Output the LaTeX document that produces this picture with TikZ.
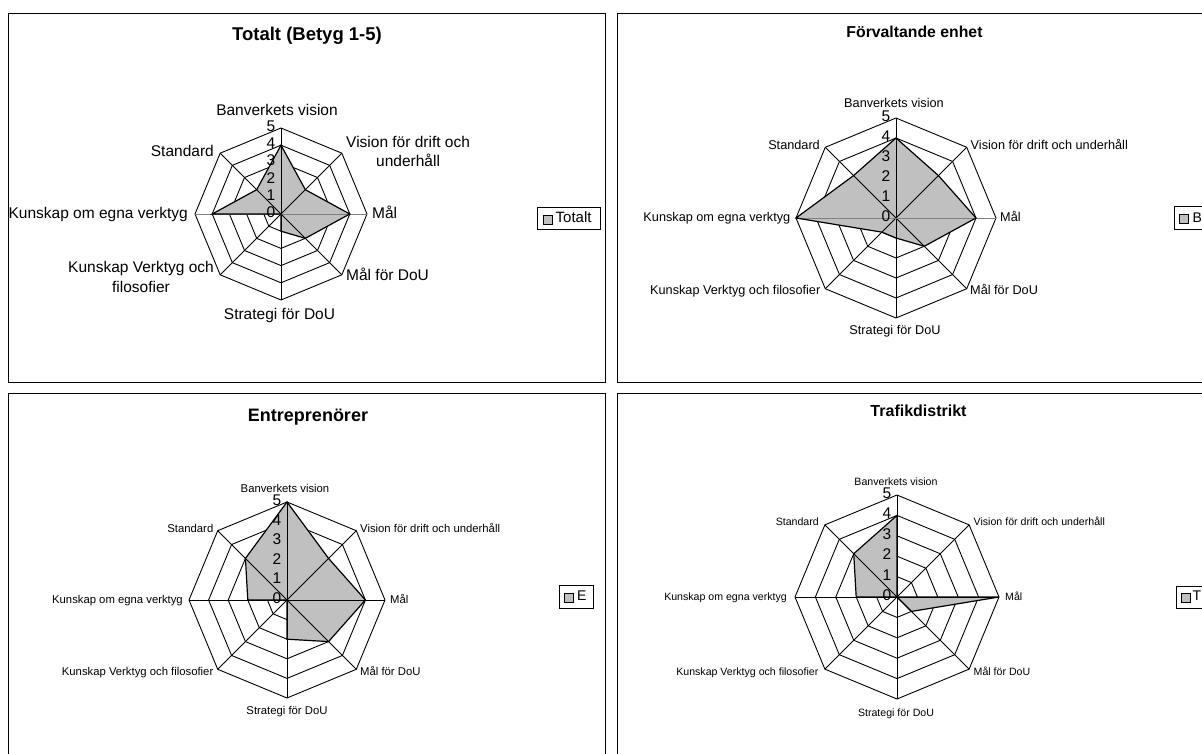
\documentclass[tikz,border=0pt]{standalone}
\usepackage{fontspec}
\setmainfont{Liberation Sans}
\definecolor{areagray}{HTML}{C0C0C0}
\definecolor{axisgray}{HTML}{808080}
% Radar chart: #1,#2 centre, #3 radius of the 5-ring, #4 first value (top axis),
% #5 remaining seven values clockwise, #6 colour of the horizontal axis, #7 name prefix
\newcommand{\radarchart}[7]{%
  \begin{scope}[shift={(#1,#2)},y=1pt]
    \foreach \k in {1,...,5}
      \draw[ring] (90:{\k*#3/5}) \foreach \a in {45,0,-45,-90,-135,180,135} { -- (\a:{\k*#3/5}) } -- cycle;
    \fill[area] (90:{#4*#3/5}) \foreach \v [count=\i] in {#5} { -- ({90-45*\i}:{\v*#3/5}) } -- cycle;
    \foreach \a in {90,45,-45,-90,-135,135} \draw[spoke] (0,0) -- (\a:#3);
    \draw[spoke,draw=#6] (180:#3) -- (0:#3);
    \draw[outline] (90:{#4*#3/5}) \foreach \v [count=\i] in {#5} { -- ({90-45*\i}:{\v*#3/5}) } -- cycle;
    \foreach \k in {0,...,5} \node[num] (#7n\k) at (-5.5,{\k*#3/5}) {\k};
  \end{scope}}
\begin{document}
\begin{tikzpicture}[x=1pt,y=-1pt,
  frame/.style={draw=black,line width=1pt},
  ring/.style={draw=black,line width=0.9pt},
  spoke/.style={draw=black,line width=0.9pt},
  area/.style={fill=areagray},
  outline/.style={draw=black,line width=1.2pt,line join=miter},
  num/.style={font=\fontsize{15.5}{15.5}\selectfont,inner sep=0pt,text height=0.716em,text depth=0pt,anchor=east},
  lbl/.style={inner sep=0pt,text height=0.716em,text depth=0pt},
  multi/.style={inner sep=0pt,align=center},
  ttl/.style={lbl,font=\bfseries\fontsize{#1}{#1}\selectfont},
  la/.style={lbl,font=\fontsize{15.5}{19.3}\selectfont},
  lam/.style={multi,font=\fontsize{15.5}{19.3}\selectfont},
  lb/.style={lbl,font=\fontsize{12.7}{15}\selectfont},
  lc/.style={lbl,font=\fontsize{11.3}{13}\selectfont},
  ld/.style={lbl,font=\fontsize{10.6}{12}\selectfont},
  legbox/.style={draw=black,line width=1pt,inner sep=0pt,minimum width=#1},
  legsq/.style={draw=black,line width=0.8pt,fill=areagray,inner sep=0pt,minimum size=9pt},
  legtxt/.style={lbl,anchor=west,font=\fontsize{#1}{#1}\selectfont}
]
\useasboundingbox (0,0) rectangle (1202,754);
\fill[white] (0,0) rectangle (1202,754);
\clip (0,0) rectangle (1202,754);

% chart frames
\draw[frame] (8.5,13.5) rectangle (605.5,382);
\draw[frame] (617.5,13.5) rectangle (1215,382);
\draw[frame] (8.5,393.5) rectangle (605.5,770);
\draw[frame] (617.5,393.5) rectangle (1215,770);

% ---------- Totalt ----------
\radarchart{281}{214}{86}{4}{2,4,2,1,0,4,2}{axisgray}{a}
\node[ttl=18.5] (a-title) at (307,37) {Totalt (Betyg 1-5)};
\node[la,anchor=center] (a-bv) at (277,112) {Banverkets vision};
\node[lam,anchor=west] (a-vd) at (346,151.4) {Vision för drift och\\underhåll};
\node[la,anchor=west] (a-m) at (372,215) {Mål};
\node[la,anchor=west] (a-md) at (346,277) {Mål för DoU};
\node[la,anchor=center] (a-sd) at (279.5,316) {Strategi för DoU};
\node[lam,anchor=east] (a-kv) at (214,277) {Kunskap Verktyg och\\filosofier};
\node[la,anchor=east] (a-ke) at (188,215) {Kunskap om egna verktyg};
\node[la,anchor=east] (a-st) at (214,153) {Standard};
\node[legbox=63pt,minimum height=22pt] (a-leg) at (569,219) {};
\node[legsq] (a-legsq) at (547.75,219.5) {};
\node[legtxt=15] (a-legt) at (555.5,219) {Totalt};

% ---------- Förvaltande enhet ----------
\radarchart{896}{218}{100}{4}{3,4,2,1,1,5,3}{axisgray}{b}
\node[ttl=15.8] (b-title) at (914.5,34) {Förvaltande enhet};
\node[lb,anchor=center] (b-bv) at (894,104) {Banverkets vision};
\node[lb,anchor=west] (b-vd) at (970.5,146) {Vision för drift och underhåll};
\node[lb,anchor=west] (b-m) at (1000,218) {Mål};
\node[lb,anchor=west] (b-md) at (970,291) {Mål för DoU};
\node[lb,anchor=center] (b-sd) at (895,331) {Strategi för DoU};
\node[lb,anchor=east] (b-kv) at (820.5,291) {Kunskap Verktyg och filosofier};
\node[lb,anchor=east] (b-ke) at (790.5,218) {Kunskap om egna verktyg};
\node[lb,anchor=east] (b-st) at (820,146) {Standard};
\node[legbox=41pt,minimum height=23pt] (b-leg) at (1194.5,218.5) {};
\node[legsq] (b-legsq) at (1184,219) {};
\node[legtxt=14] (b-legt) at (1192.5,219) {B};

% ---------- Entreprenörer ----------
\radarchart{287}{600}{98}{5}{3,4,3,2,0,2,3}{black}{c}
\node[ttl=18] (c-title) at (308,417.5) {Entreprenörer};
\node[lc,anchor=center] (c-bv) at (285,489) {Banverkets vision};
\node[lc,anchor=west] (c-vd) at (360,528.5) {Vision för drift och underhåll};
\node[lc,anchor=west] (c-m) at (390,600) {Mål};
\node[lc,anchor=west] (c-md) at (360,672) {Mål för DoU};
\node[lc,anchor=center] (c-sd) at (287,711) {Strategi för DoU};
\node[lc,anchor=east] (c-kv) at (213.5,672) {Kunskap Verktyg och filosofier};
\node[lc,anchor=east] (c-ke) at (183,600) {Kunskap om egna verktyg};
\node[lc,anchor=east] (c-st) at (213.5,528.5) {Standard};
\node[legbox=34pt,minimum height=23pt] (c-leg) at (576,596.5) {};
\node[legsq] (c-legsq) at (568.5,597.5) {};
\node[legtxt=14] (c-legt) at (577,597) {E};

% ---------- Trafikdistrikt ----------
\radarchart{897}{597}{102}{4}{0,5,1,0,0,2,3}{black}{d}
\node[ttl=16] (d-title) at (918.5,413) {Trafikdistrikt};
\node[ld,anchor=center] (d-bv) at (896,482) {Banverkets vision};
\node[ld,anchor=west] (d-vd) at (973.5,522) {Vision för drift och underhåll};
\node[ld,anchor=west] (d-m) at (1005,597) {Mål};
\node[ld,anchor=west] (d-md) at (973.5,672) {Mål för DoU};
\node[ld,anchor=center] (d-sd) at (896,713) {Strategi för DoU};
\node[ld,anchor=east] (d-kv) at (818.5,672) {Kunskap Verktyg och filosofier};
\node[ld,anchor=east] (d-ke) at (787,597) {Kunskap om egna verktyg};
\node[ld,anchor=east] (d-st) at (819,522) {Standard};
\node[legbox=39pt,minimum height=22pt] (d-leg) at (1195.5,597) {};
\node[legsq] (d-legsq) at (1185.5,597.5) {};
\node[legtxt=14] (d-legt) at (1192.5,597) {T};
\end{tikzpicture}
\end{document}
